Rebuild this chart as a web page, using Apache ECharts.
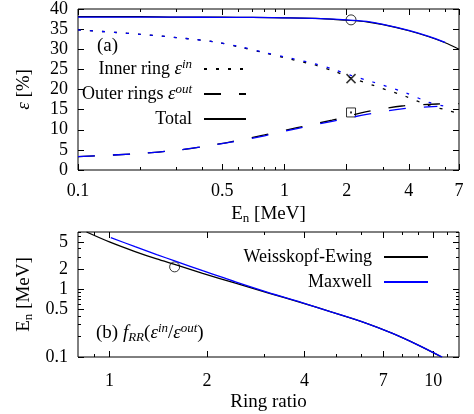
<!DOCTYPE html>
<html>
<head>
<meta charset="utf-8">
<script src="https://cdn.jsdelivr.net/npm/echarts@6/dist/echarts.min.js"></script>
<style>
html, body { margin: 0; padding: 0; background: #fff; }
#chart { width: 474px; height: 414px; }
</style>
</head>
<body>
<div id="chart"></div>
<script>
// ---- panel (a): efficiency vs neutron energy ----
var totalEnergy = [0.1, 0.2, 0.3, 0.5, 0.7, 1, 1.5, 2, 2.5, 3, 4, 5, 6, 7];
var totalWE = [38.1, 38.1, 38.0, 38.0, 37.9, 37.8, 37.6, 37.2, 36.8, 36.1, 34.6, 33.1, 31.6, 30.0];
var totalMaxwell = [38.0, 38.0, 38.0, 37.9, 37.9, 37.8, 37.6, 37.3, 36.9, 36.2, 34.7, 33.2, 31.7];

var innerEnergy = [0.1, 0.15, 0.2, 0.3, 0.45, 0.6, 0.8, 1, 1.4, 1.75, 2.1, 2.7, 3.9, 5, 6, 7];
var innerWE = [34.8, 34.2, 33.7, 32.9, 31.9, 30.6, 29.1, 27.9, 26.1, 24.5, 22.9, 21.0, 18.2, 16.0, 15.0, 14.0];
var innerMaxwell = [34.8, 34.2, 33.7, 32.9, 31.9, 30.7, 29.2, 28.1, 26.4, 24.9, 23.5, 21.8, 19.1, 16.8, 15.8];

var outerEnergy = [0.1, 0.2, 0.3, 0.4, 0.55, 0.8, 1.15, 1.7, 2.5, 3.7, 5.5, 7];
var outerWE = [3.3, 4.1, 4.9, 5.8, 7.0, 8.7, 10.5, 12.4, 14.5, 15.9, 16.4, 16.5];
var outerMaxwell = [3.3, 4.1, 4.9, 5.8, 6.9, 8.5, 10.3, 12.1, 13.8, 15.2, 15.8];

// measured points at 2.1 MeV
var markEnergy = 2.1;
var markTotal = 37.3, markInner = 22.7, markOuter = 14.3;

// ---- panel (b): energy vs ring ratio ----
var ratioWE = [0.85, 1.0, 1.2, 1.4, 1.59, 1.94, 2.45, 3.1, 3.93, 4.86, 6.16, 7.45, 8.98, 10.6];
var energyWE = [7.0, 5.0, 3.6, 2.8, 2.32, 1.72, 1.23, 0.88, 0.63, 0.46, 0.32, 0.225, 0.15, 0.1];
var ratioMaxwell = [1.01, 1.2, 1.4, 1.59, 1.94, 2.26, 2.45, 3.1, 3.93, 4.86, 6.16, 7.45, 8.98, 10.65];
var energyMaxwell = [5.8, 4.25, 3.25, 2.62, 1.88, 1.47, 1.28, 0.89, 0.635, 0.46, 0.32, 0.225, 0.15, 0.1];
var markRatio = 1.59, markRatioEnergy = 2.14;

// ticks
var topXLabels = [0.1, 0.5, 1, 2, 4, 7];
var topXMinor = [0.2, 0.3, 0.4, 0.6, 0.7, 0.8, 0.9, 3, 5, 6];
var botXLabels = [1, 2, 4, 7, 10];
var botXMinor = [0.9, 3, 5, 6, 8, 9, 11];
var botYLabels = [0.1, 0.5, 1, 2, 5];
var botYMinor = [0.2, 0.3, 0.4, 0.6, 0.7, 0.8, 0.9, 3, 4, 6, 7];

var FONT = '"Liberation Serif", "DejaVu Serif", serif';
var BLUE = '#0000ff';

function pairs(xs, ys) {
  var out = [];
  for (var i = 0; i < ys.length; i++) out.push([xs[i], ys[i]]);
  return out;
}
function fmt(v) { return String(+(+v).toPrecision(3)); }

var richBase = {
  n: { fontFamily: FONT, fontSize: 19, lineHeight: 22 },
  it: { fontFamily: FONT, fontStyle: 'italic', fontSize: 19, lineHeight: 22 },
  sup: { fontFamily: FONT, fontStyle: 'italic', fontSize: 13, lineHeight: 11, verticalAlign: 'top' },
  sub: { fontFamily: FONT, fontSize: 13, lineHeight: 11, verticalAlign: 'bottom' },
  subi: { fontFamily: FONT, fontStyle: 'italic', fontSize: 13, lineHeight: 11, verticalAlign: 'bottom' },
  g: { width: 7 }
};

// one axis, ticks only (or ticks + labels)
function tickAxis(o) {
  var ax = {
    type: o.type || 'log',
    logBase: 10,
    gridIndex: o.grid,
    position: o.pos,
    min: o.min,
    max: o.max,
    axisLine: { show: false },
    splitLine: { show: false },
    axisTick: {
      show: true, inside: true, length: o.len,
      lineStyle: { color: '#000', width: 1 }
    },
    axisLabel: { show: false }
  };
  if (o.interval) ax.interval = o.interval;
  if (o.ticks) ax.axisTick.customValues = o.ticks;
  if (o.labels) {
    ax.axisLabel = {
      show: true, margin: o.margin, color: '#000',
      fontFamily: FONT, fontSize: 18, formatter: fmt
    };
    if (ax.type === 'log') ax.axisLabel.customValues = o.labels;
  }
  if (o.name) {
    ax.name = o.name;
    ax.nameLocation = 'middle';
    ax.nameGap = o.nameGap;
    ax.nameTextStyle = { fontFamily: FONT, fontSize: 19, color: '#000', lineHeight: 22, rich: richBase };
  }
  return ax;
}

var option = {
  animation: false,
  backgroundColor: '#fff',
  grid: [
    { left: 78, top: 7, width: 381, height: 163, show: true, borderColor: '#000', borderWidth: 1, backgroundColor: 'transparent' },
    { left: 78, top: 232, width: 381, height: 125, show: true, borderColor: '#000', borderWidth: 1, backgroundColor: 'transparent' }
  ],
  xAxis: [
    tickAxis({ grid: 0, pos: 'bottom', min: 0.1, max: 7, len: 6, ticks: topXLabels, labels: topXLabels, margin: 12,
      name: '{n|E}{sub|n} [MeV]', nameGap: 33 }),
    tickAxis({ grid: 0, pos: 'bottom', min: 0.1, max: 7, len: 3, ticks: topXMinor }),
    tickAxis({ grid: 0, pos: 'top', min: 0.1, max: 7, len: 6, ticks: topXLabels }),
    tickAxis({ grid: 0, pos: 'top', min: 0.1, max: 7, len: 3, ticks: topXMinor }),
    tickAxis({ grid: 1, pos: 'bottom', min: 0.8, max: 12, len: 6, ticks: botXLabels, labels: botXLabels, margin: 15,
      name: 'Ring ratio', nameGap: 31 }),
    tickAxis({ grid: 1, pos: 'bottom', min: 0.8, max: 12, len: 3, ticks: botXMinor }),
    tickAxis({ grid: 1, pos: 'top', min: 0.8, max: 12, len: 6, ticks: botXLabels }),
    tickAxis({ grid: 1, pos: 'top', min: 0.8, max: 12, len: 3, ticks: botXMinor })
  ],
  yAxis: [
    tickAxis({ type: 'value', grid: 0, pos: 'left', min: 0, max: 40, interval: 5, len: 6, labels: true, margin: 10,
      name: '{it|ε} [%]', nameGap: 43 }),
    tickAxis({ type: 'value', grid: 0, pos: 'right', min: 0, max: 40, interval: 5, len: 6 }),
    tickAxis({ grid: 1, pos: 'left', min: 0.1, max: 7, len: 6, ticks: botYLabels, labels: botYLabels, margin: 10,
      name: '{n|E}{sub|n} [MeV]', nameGap: 43 }),
    tickAxis({ grid: 1, pos: 'left', min: 0.1, max: 7, len: 3, ticks: botYMinor }),
    tickAxis({ grid: 1, pos: 'right', min: 0.1, max: 7, len: 6, ticks: botYLabels }),
    tickAxis({ grid: 1, pos: 'right', min: 0.1, max: 7, len: 3, ticks: botYMinor })
  ],
  legend: [
    {
      data: ['Inner ring', 'Outer rings', 'Total'],
      orient: 'vertical', align: 'right', right: 227, top: 58,
      padding: 0, itemWidth: 42, itemHeight: 14, itemGap: 3,
      selectedMode: false,
      itemStyle: { opacity: 0 },
      formatter: function (n) {
        if (n === 'Inner ring') return 'Inner ring {it|ε}{sup|in}{g|}';
        if (n === 'Outer rings') return 'Outer rings {it|ε}{sup|out}{g|}';
        return n + '{g|}';
      },
      textStyle: { fontFamily: FONT, fontSize: 18, color: '#000', lineHeight: 22, rich: richBase }
    },
    {
      data: ['Weisskopf-Ewing', 'Maxwell'],
      orient: 'vertical', align: 'right', right: 45, top: 246,
      padding: 0, itemWidth: 44, itemHeight: 14, itemGap: 3,
      selectedMode: false,
      itemStyle: { opacity: 0 },
      formatter: function (n) { return n + '{g|}'; },
      textStyle: { fontFamily: FONT, fontSize: 18, color: '#000', lineHeight: 22, rich: richBase }
    }
  ],
  graphic: [
    { type: 'text', left: 97, top: 37, style: { text: '(a)', font: '19px ' + FONT, fill: '#000' } },
    { type: 'text', left: 96, top: 322, style: {
      text: '{n|(b) }{it|f}{subi|RR}{n|(}{it|ε}{sup|in}{n|/}{it|ε}{sup|out}{n|)}',
      font: '19px ' + FONT, fill: '#000', lineHeight: 22, rich: richBase } }
  ],
  series: [
    { name: 'Total', type: 'line', xAxisIndex: 0, yAxisIndex: 0, symbol: 'none', smooth: 0.3,
      data: pairs(totalEnergy, totalWE), lineStyle: { color: '#000', width: 1.2 }, itemStyle: { color: '#000' } },
    { name: 'Inner ring', type: 'line', xAxisIndex: 0, yAxisIndex: 0, symbol: 'none', smooth: 0.3,
      data: pairs(innerEnergy, innerWE), lineStyle: { color: '#000', width: 1.3, type: [3, 9] }, itemStyle: { color: '#000' } },
    { name: 'Outer rings', type: 'line', xAxisIndex: 0, yAxisIndex: 0, symbol: 'none', smooth: 0.3,
      data: pairs(outerEnergy, outerWE), lineStyle: { color: '#000', width: 1.3, type: [17, 18] }, itemStyle: { color: '#000' } },
    { name: 'Total (Maxwell)', type: 'line', xAxisIndex: 0, yAxisIndex: 0, symbol: 'none', smooth: 0.3,
      data: pairs(totalEnergy, totalMaxwell), lineStyle: { color: BLUE, width: 1.3 } },
    { name: 'Inner (Maxwell)', type: 'line', xAxisIndex: 0, yAxisIndex: 0, symbol: 'none', smooth: 0.3,
      data: pairs(innerEnergy, innerMaxwell), lineStyle: { color: BLUE, width: 1.3, type: [3, 9] } },
    { name: 'Outer (Maxwell)', type: 'line', xAxisIndex: 0, yAxisIndex: 0, symbol: 'none', smooth: 0.3,
      data: pairs(outerEnergy, outerMaxwell), lineStyle: { color: BLUE, width: 1.3, type: [17, 18] } },
    { name: 'mark circle', type: 'scatter', xAxisIndex: 0, yAxisIndex: 0, symbol: 'circle', symbolSize: 10,
      data: [[markEnergy, markTotal]], itemStyle: { color: 'rgba(0,0,0,0)', borderColor: '#000', borderWidth: 1 } },
    { name: 'mark cross', type: 'scatter', xAxisIndex: 0, yAxisIndex: 0, symbol: 'path://M0,0L10,10M10,0L0,10', symbolSize: 9,
      data: [[markEnergy, markInner]], itemStyle: { color: 'rgba(0,0,0,0)', borderColor: '#000', borderWidth: 1.5 } },
    { name: 'mark square', type: 'scatter', xAxisIndex: 0, yAxisIndex: 0, symbol: 'rect', symbolSize: 9,
      data: [[markEnergy, markOuter]], itemStyle: { color: '#fff', borderColor: '#000', borderWidth: 1 } },
    { name: 'mark dot', type: 'scatter', xAxisIndex: 0, yAxisIndex: 0, symbol: 'rect', symbolSize: 2,
      data: [[markEnergy, markOuter]], itemStyle: { color: '#000' } },

    { name: 'Weisskopf-Ewing', type: 'line', xAxisIndex: 4, yAxisIndex: 2, symbol: 'none', smooth: 0.3,
      data: pairs(ratioWE, energyWE), lineStyle: { color: '#000', width: 1.3 }, itemStyle: { color: '#000' } },
    { name: 'Maxwell', type: 'line', xAxisIndex: 4, yAxisIndex: 2, symbol: 'none', smooth: 0.3,
      data: pairs(ratioMaxwell, energyMaxwell), lineStyle: { color: BLUE, width: 1.3 }, itemStyle: { color: BLUE } },
    { name: 'mark ratio', type: 'scatter', xAxisIndex: 4, yAxisIndex: 2, symbol: 'circle', symbolSize: 10,
      data: [[markRatio, markRatioEnergy]], itemStyle: { color: 'rgba(0,0,0,0)', borderColor: '#000', borderWidth: 1 } }
  ]
};

var chart = echarts.init(document.getElementById('chart'));
chart.setOption(option);
window.addEventListener('resize', function () { chart.resize(); });
</script>
</body>
</html>
